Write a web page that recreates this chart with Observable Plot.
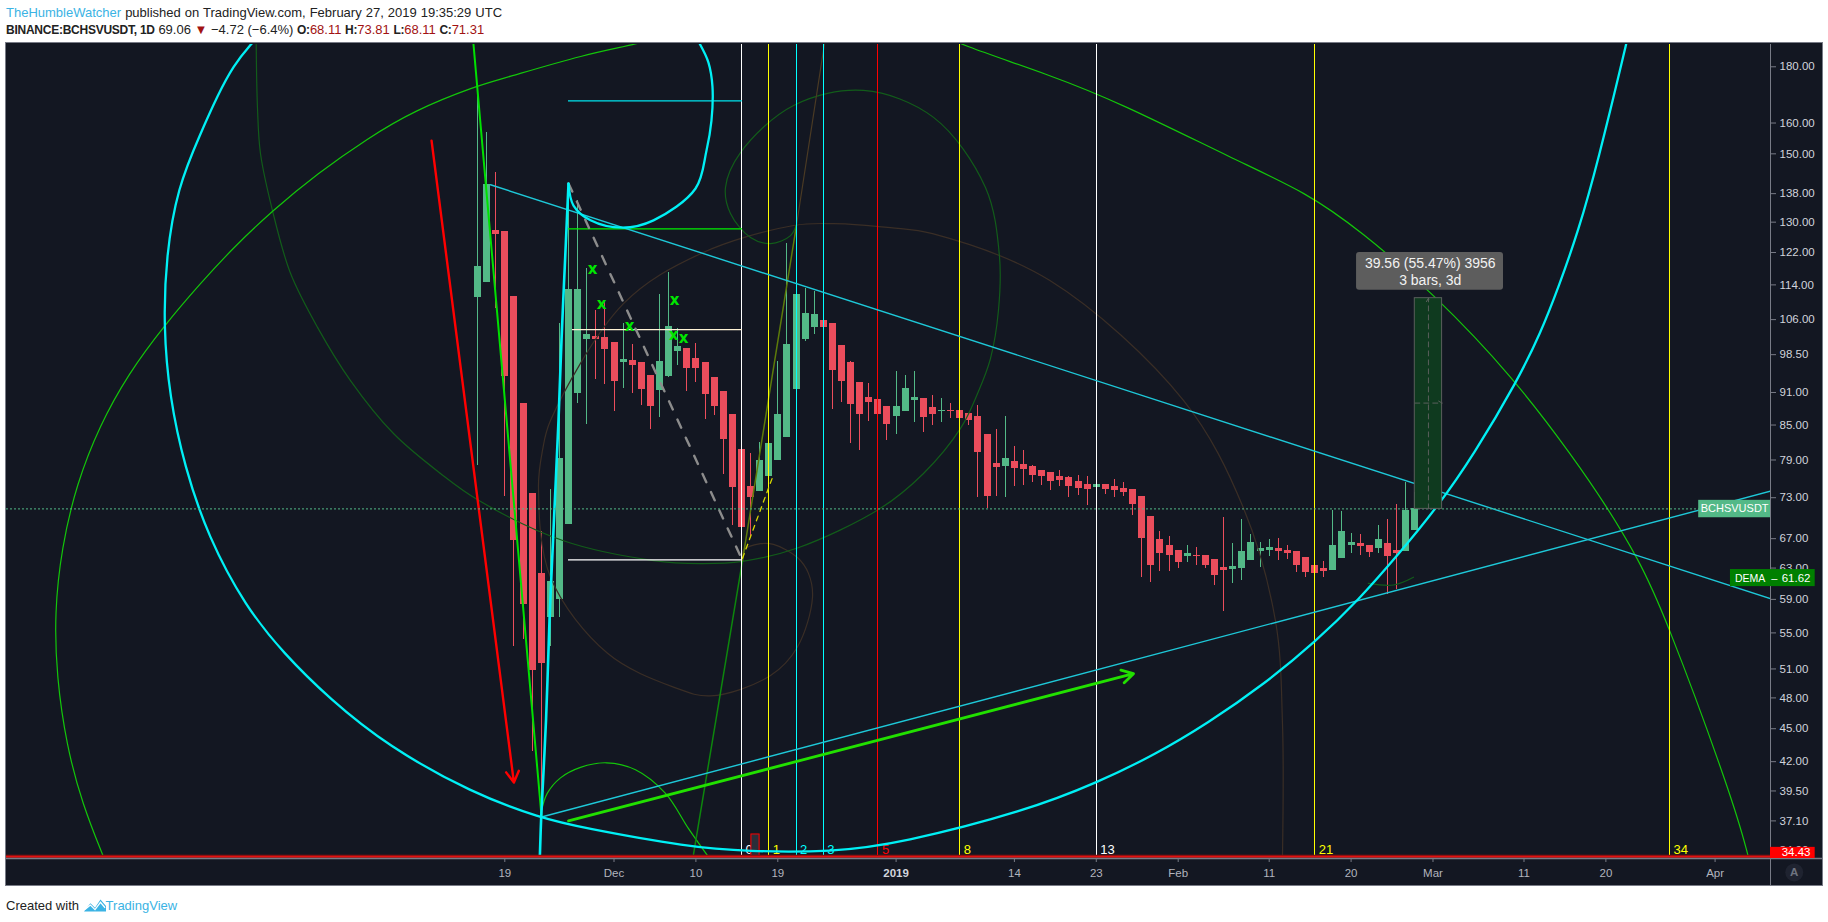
<!DOCTYPE html>
<html><head><meta charset="utf-8">
<script src="https://cdn.jsdelivr.net/npm/d3@7"></script>
<script src="https://cdn.jsdelivr.net/npm/@observablehq/plot@0.6"></script>
<style>
html,body{margin:0;padding:0;background:#fff;width:1828px;height:922px;overflow:hidden;font-family:"Liberation Sans",Arial,sans-serif}
#h1,#h2,#foot{position:absolute;left:6px;white-space:pre;font-size:13px;color:#222}
#h1{top:5px;word-spacing:.4px}#h2{top:21.5px}#foot{top:897px;display:flex;align-items:center}
#chart{position:absolute;left:6px;top:43px}
#chart svg{display:block;outline:1px solid #787b86;background:#131722}
.b{font-weight:700}.t{font-size:12px;letter-spacing:-.25px}.r{color:#a11212}.l{color:#3bb3e4}
</style></head><body>
<div id="h1"><span class="l">TheHumbleWatcher</span> published on TradingView.com, February 27, 2019 19:35:29 UTC</div>
<div id="h2"><span class="b t">BINANCE:BCHSVUSDT, 1D</span> 69.06 <span class="r">▼</span> −4.72 (−6.4%) <span class="b t">O:</span><span class="r">68.11</span> <span class="b t">H:</span><span class="r">73.81</span> <span class="b t">L:</span><span class="r">68.11</span> <span class="b t">C:</span><span class="r">71.31</span></div>
<div id="chart"></div>
<div id="foot">Created with <svg width="22" height="16" viewBox="0 0 24 16" style="margin:0 0 0 1px"><path d="M0 15 L7 6 L12 11 L18 2 L24 9 L24 15 Z" fill="#3bb3e4"/><path d="M1 13 L7 8 L12 13 L18 5 L23 11" fill="none" stroke="#fff" stroke-width="1.4"/></svg><span class="l">TradingView</span></div>
<script>
// Candles: one per day from 16 Nov 2018 (day 0)
const opens=[111,114.6,127.7,127.4,111.2,89,73.7,62.3,56.8,59,69,90.8,101.7,102.3,102.1,101.1,96.9,97.3,96.9,94.3,91.4,94.1,99.2,99.8,97.7,96.9,93.9,91.2,86.9,80.8,74.7,73.9,76.3,78.9,82.8,91.6,101.7,104.3,105.8,105.2,100.4,96.9,92.9,90.1,89.7,88.4,86.5,87.4,89.5,89.9,88.2,87.4,87.6,87.6,87,86.5,83.3,78.4,78,78.8,78.3,78,77.3,77,76.3,76.2,75.5,75,74.5,75,74.7,74.4,74.2,73.2,70.2,66.9,66,65.4,64.6,64.7,64.7,64.1,63.1,62.8,63,64,65.2,65.4,65.6,65.4,65.2,64.4,63.4,63,62.7,64.3,66,66.3,66.1,65.6,66.3,65.4,65.2,68.11];
const highs=[173.1,156.8,144.3,127.4,111.2,89,73.7,68,74.3,105.2,141,136,118,108.1,110.3,101.1,105.2,100.7,96.9,94.3,111.8,117,104.1,99.8,100.9,96.9,93.9,91.2,86.9,80.8,80.1,82,85.3,97.1,124.3,129.7,113.2,112.5,111.8,105.2,100.4,97.1,92.9,92.7,89.7,88.4,95.1,94.3,95.1,89.9,90.4,89.9,89,87.6,87,88.6,83.3,84.2,86.5,81.3,80.6,78.1,77.3,77,77.3,76.3,76.5,76.3,76.2,75,75.8,75.4,74.2,73.2,70.2,68,67.3,65.4,66,65.8,64.7,64.1,70,66.3,69.7,67.6,66.5,66.9,67,66,65.2,64.4,63.4,63.9,71.1,70.9,67.7,67.6,66.1,68.9,69.7,72,75.4,73.81];
const lows=[78.1,114.6,108.5,73.2,53.4,54.2,42.9,37.6,53.4,56.8,69,89,85.1,93.5,92.5,87.4,91.8,90.8,88.6,84.2,86.3,93.9,96.3,91.2,92.9,86,86.8,76.7,68.9,64,67.1,73.9,76.3,78.9,82.8,91.2,101.3,102.7,99.6,87.8,89.1,81.8,80.6,85.6,85.3,82.3,83.3,87.4,85.5,83.7,84.9,85.5,86.2,84.9,84.9,73,71.4,73.2,73,74.7,74.9,75.4,74.9,74.1,74.7,73.1,73.4,71.8,74.2,73.5,73,73.2,70.3,61.8,61.1,62.6,62.6,63,63.8,63.4,63,60.8,57.5,61,61.4,64,63.1,64.5,64,64.1,62.4,61.8,62,61.8,62.7,64.3,64.9,64.7,64.4,64.9,59.6,60.2,65.2,68.11];
const closes=[118.5,140.6,126.6,94.1,66.7,58.4,50.8,51.6,61.3,79.2,112.9,112.9,102.7,101.7,99.6,93.1,97.5,96.3,91.6,88.4,97.1,104.5,100.2,95.7,95.7,90.6,88.4,82.5,74.6,68.6,73,78.9,81.7,86.9,100.7,111.8,107.4,107.2,104.3,95.3,93.1,88.7,86.9,89.1,86.9,85.1,88.4,91.8,90.1,86.3,86.9,87.6,87.4,86.2,85.8,80.3,73.2,77.8,79.2,77.6,77.5,76.5,76.3,75.5,75.7,74.7,74.4,74.2,75.1,74.2,74.1,73.8,72,67,63.4,64.9,64.7,63.8,64.9,64.6,63.4,62,62.7,63.2,65.2,66.4,65.6,65.8,65.2,65,63.3,62.4,62.3,62.6,66,68,66.5,65.9,65.1,66.9,64.6,65,71.1,71.31];

// Axes
const priceTicks=[180,160,150,138,130,122,114,106,98.5,91,85,79,73,67,63,59,55,51,48,45,42,39.5,37.1,34.9];
const dayTicks=[3,15,24,33,59,68,77,87,96,105,115,124,136];
const dayTickLabels=["19","Dec","10","19","14","23","Feb","11","20","Mar","11","20","Apr"];
const yearTickDay=[46];const yearTickLabel="2019";

// Fib time zones
const zoneDays=[29,32,35,38,44,53,68,92,131];
const zoneLabels=["0","1","2","3","5","8","13","21","34"];
const zoneColours=["#ffffff","#ffff00","#00ffff","#00ffff","#ff0000","#ffff00","#ffffff","#ffff00","#ffff00"];

// Drawings, as [day, price]
const fallTrend=[[1.43,140.6],[142.09,59.1]];
const riseTrend=[[7.03,37.4],[142.09,74]];
const redArrow=[-5.05,154.2,4.0,40.2];
const greenArrow=[10,37.1,72.09,50.5];
const steepGreen=[[-0.44,188.6],[7.03,37.5]];
const riseDarkGreen=[[23.74,34.6],[29.12,64]];
const riseOlive=[[29.12,64],[35.05,129.1]];
const riseBrown=[[35.05,129.1],[38.13,189]];
const grayDash=[[10,141],[29.12,64]];
const yellowDash=[[29.12,64.3],[32.5,76.5]];
const cyanSpike=[[6.85,34.4],[7.0,37.4],[7.53,45.8],[7.91,56.4],[8.35,68.2],[8.9,85.8],[9.23,101.5],[9.67,122.5],[10,140.9]];
const cyanSmallArc=[[10,140.9],[10.55,134.6],[12.42,130.5],[15.93,128.5],[19.34,130.5],[23.96,139.5],[25.16,151],[25.71,160.8],[25.82,172.7],[25.38,181.6],[24.4,189]];
const cyanBigArc=[[-23.5,194],[-24.95,188.6],[-26.81,180.5],[-28.57,169.5],[-30.44,156.5],[-32.97,139.8],[-34.23,121],[-34.51,104.5],[-33.85,90.2],[-32.2,77.9],[-29.62,67.3],[-25.49,58.1],[-21.32,52.7],[-16.26,47.9],[-9.89,43.4],[-0.55,39.3],[7.03,37.3],[11.32,36.6],[23.3,35.1],[29.56,34.8],[39.01,34.75],[46.48,35.4],[60.33,37.9],[68.13,40.2],[74.4,42.6],[80.22,45.5],[86.59,49.5],[92.09,54],[96.81,58.9],[101.32,65],[105.6,71.8],[109.45,79.8],[114.29,93.3],[116.81,103],[118.79,113.4],[120.99,127.7],[123.08,147],[126.26,189],[126.8,198]];
const greenLeftArc=[[-40.6,33.6],[-41.1,34.4],[-43.41,38.4],[-45.16,43.4],[-46.26,50.2],[-46.48,57.4],[-45.71,65.7],[-44.07,75.1],[-41.54,84.9],[-38.35,94.7],[-34.51,104.5],[-30.44,114.4],[-26.81,123.3],[-22.53,133.2],[-17.58,144],[-12.09,154.9],[-7.03,164.2],[0,173.1],[2.53,175.3],[11.87,184.9],[18.02,189],[20,192]];
const greenRightArc=[[51,193],[52.64,189],[62.86,177],[70.55,167],[83.41,147.9],[91.1,138.3],[97.03,127.7],[105.05,112],[113.85,93.9],[120.44,79.4],[124.18,71.5],[127.47,64.4],[130.33,57.6],[138.02,38.7],[139.67,34.4],[140,33.5]];
const greenDome=[[7.0,37.8],[7.66,39.3],[9.12,40.6],[11.32,41.5],[14.18,41.9],[17.36,41.3],[20.66,39.3],[23.19,36.5],[25.38,34.4]];
const darkGreenSpiral=[[-24.32,189],[-24.18,165.3],[-23.85,150.1],[-22.53,133.2],[-20.55,116.8],[-17.58,104.3],[-13.96,93.3],[-9.23,83.5],[-4.07,76.8],[0.11,72.6],[9.45,66.7],[19.34,64],[24.51,63.6],[29.12,63.9],[35.16,65.7],[44.29,71.4],[49.01,76.8],[53.08,84.4],[54.95,90.8],[56.37,97.7],[57.25,108.1],[57.36,121],[55.82,139.8],[50.11,161.9],[42.42,171.3],[34.73,166],[28.9,150.4],[27.25,139.8],[27.8,132.4],[30,125.9],[32.2,124.3],[34.4,126.4],[35.05,129.4]];
const darkGreenTiny=[[97.9,61],[100.66,60.8],[102.86,61.8]];
const brownSpiral=[[88.46,34.4],[88.46,45.5],[87.69,56.4],[84.18,71.4],[77.58,89.5],[62.86,115.1],[50,126.9],[45.38,128.5],[39.12,129.6],[34.73,129.1],[24.51,121.7],[16.04,109.6],[8.02,85.8],[7.14,80.6],[6.7,74.6],[8.02,61.8],[14.29,52.7],[21.54,49.1],[25.6,48.2],[32.2,50.3],[35.16,53.4],[36.81,59.2],[36.37,62.3],[35.16,64.4],[32.53,66.2],[31.1,66.3],[29.23,65.4],[29.12,64]];
const markers=[[12.64,117.7],[13.63,109.4],[16.7,104.5],[21.65,110.5],[21.54,102.7],[22.64,101.9]];
const hCyan=[10,29.12,167.6], hGreen=[10,29.12,128.2], hCream=[10.44,29.12,103.8], hWhite=[10,29.12,64.1];
const lastPrice=71.31, baseline=34.43, demaValue=61.62;
const rangeDays=[103,106], rangePrices=[71.31,110.87], rangeMid=[104.5,89];

const t0=Date.UTC(2018,10,16), toDate=d=>new Date(t0+d*864e5);
const dayL=-51.76, dayR=142.09, priceLow=34.29, priceHigh=188.6;
const green="#53b987", red="#eb4d5c", grid="#787b86";
const candles=d3.range(opens.length).map(i=>({date:toDate(i),o:opens[i],h:highs[i],l:lows[i],c:closes[i],col:closes[i]>=opens[i]?green:red}));
const tickMap=new Map(dayTicks.map((d,i)=>[+toDate(d),dayTickLabels[i]]));

const px=p=>toDate(p[0]), py=p=>p[1];
const ln=(pts,stroke,w,extra={})=>Plot.line(pts,{x:px,y:py,stroke,strokeWidth:w,clip:true,...extra});
const arc=(pts,stroke,w)=>ln(pts,stroke,w,{curve:"catmull-rom"});
const smooth=(pts,stroke,w)=>ln(pts,stroke,w,{curve:"basis"});
const hline=(h,stroke,w=1.2)=>Plot.ruleY([h[2]],{x1:toDate(h[0]),x2:toDate(h[1]),stroke,strokeWidth:w});
const arrow=(a,stroke,w,len,extra={})=>Plot.arrow([a],{x1:d=>toDate(d[0]),y1:d=>d[1],x2:d=>toDate(d[2]),y2:d=>d[3],stroke,strokeWidth:w,headLength:len,bend:0,...extra});
const chip=(d1,d2,p1,p2,fill)=>Plot.rect([0],{x1:toDate(d1),x2:toDate(d2),y1:p1,y2:p2,fill});
const label=(d,p,text,fill="#fff",size=11,extra={})=>Plot.text([text],{x:toDate(d),y:p,text:t=>t,fill,fontSize:size,...extra});

const chart=Plot.plot({
  width:1816,height:842,marginTop:1,marginBottom:27,marginLeft:0,marginRight:52,
  style:{background:"#131722",fontFamily:"'Liberation Sans',Arial,sans-serif",fontSize:"11px"},
  x:{type:"utc",domain:[toDate(dayL),toDate(dayR)]},
  y:{type:"log",domain:[priceLow,priceHigh]},
  marks:[
    // candles
    Plot.ruleX(candles,{x:"date",y1:"l",y2:"h",stroke:"col",strokeWidth:1,shapeRendering:"crispEdges"}),
    Plot.ruleX(candles,{x:"date",y1:"o",y2:"c",stroke:"col",strokeWidth:7,shapeRendering:"crispEdges"}),
    // spirals and arcs
    arc(brownSpiral,"#3a2e26",1.2),
    arc(darkGreenSpiral,"#125c1a",1.2),
    arc(darkGreenTiny,"#125c1a",1.2),
    smooth(greenLeftArc,"#13c60a",1.2),
    smooth(greenRightArc,"#13c60a",1.2),
    arc(greenDome,"#13c60a",1.2),
    ln(riseDarkGreen,"#0d860d",1.5),
    ln(riseOlive,"#5c7a0a",1.5),
    ln(riseBrown,"#4a3a24",1.2),
    ln(steepGreen,"#00e000",2),
    // time zones
    Plot.ruleX(zoneDays,{x:d=>toDate(d),y1:priceLow,y2:priceHigh,stroke:(d,i)=>zoneColours[i],strokeWidth:1,shapeRendering:"crispEdges"}),
    Plot.text(zoneDays,{x:d=>toDate(d),y:34.9,text:(d,i)=>zoneLabels[i],fill:(d,i)=>zoneColours[i],fontSize:13,dx:4,textAnchor:"start"}),
    Plot.rect([0],{x1:toDate(30.1),x2:toDate(31),y1:priceLow,y2:36.06,fill:"#2a2e39",stroke:"#ff0000",strokeWidth:1}),
    // horizontal levels
    hline(hCyan,"#00e5ee"),hline(hGreen,"#00f000"),hline(hCream,"#fff3d6"),hline(hWhite,"#ffffff"),
    // trend lines
    ln(fallTrend,"#1ec8d8",1.4),ln(riseTrend,"#1ec8d8",1.4),
    ln(grayDash,"#8c8c8c",2.4,{strokeDasharray:"9,11"}),
    ln(yellowDash,"#d8d800",1.3,{strokeDasharray:"5,5"}),
    // thick cyan
    arc(cyanSpike,"#00f0f5",2.6),arc(cyanSmallArc,"#00f0f5",2.3),smooth(cyanBigArc,"#00f0f5",2.3),
    // arrows
    arrow(redArrow,"#ff0000",2.4,8),arrow(greenArrow,"#22e000",2.8,7),
    // markers
    Plot.text(markers,{x:px,y:py,text:()=>"x",fill:"#00e600",fontSize:15,fontWeight:700,fontFamily:"'DejaVu Sans'"}),
    // last price & baseline
    Plot.ruleY([lastPrice],{stroke:green,strokeWidth:1,strokeDasharray:"2,2"}),
    Plot.ruleY([baseline],{stroke:"#8f1111",strokeWidth:3.6}),
    Plot.ruleY([baseline],{stroke:"#e41010",strokeWidth:1.2}),
    // range tool
    Plot.rect([0],{x1:toDate(rangeDays[0]),x2:toDate(rangeDays[1]),y1:rangePrices[0],y2:rangePrices[1],fill:"#0f3a1f",stroke:"#5a5f5c",strokeWidth:1}),
    arrow([rangeMid[0],rangePrices[0],rangeMid[0],rangePrices[1]],"#5a5f5c",1,6,{strokeDasharray:"5,4"}),
    arrow([rangeDays[0],rangeMid[1],rangeDays[1],rangeMid[1]],"#5a5f5c",1,6,{strokeDasharray:"5,4"}),
    Plot.rect([0],{x1:toDate(96.6),x2:toDate(112.75),y1:112.7,y2:122,fill:"#5d5d5d",rx:3}),
    label(104.7,119.3,"39.56 (55.47%) 3956","#f2f2f2",14),
    label(104.7,115.1,"3 bars, 3d","#f2f2f2",14),
    // frame lines and axes
    Plot.ruleX([0],{x:toDate(dayR),y1:32.4,y2:priceHigh,stroke:grid}),
    Plot.ruleY([priceLow],{x1:toDate(dayL),x2:toDate(147.8),stroke:grid,strokeWidth:1.5}),
    Plot.axisY({anchor:"right",ticks:priceTicks,tickFormat:d=>d.toFixed(2),tickSize:5,tickPadding:4,label:null,stroke:grid,color:"#d1d4dc",fill:"#d1d4dc",fontSize:11.5}),
    Plot.axisX({anchor:"bottom",ticks:dayTicks.map(toDate),tickFormat:d=>tickMap.get(+d),tickSize:4,tickPadding:6,label:null,stroke:grid,fill:"#b2b5be",fontSize:11.5}),
    Plot.axisX({anchor:"bottom",ticks:yearTickDay.map(toDate),tickFormat:()=>yearTickLabel,tickSize:4,tickPadding:6,label:null,stroke:grid,fill:"#d1d4dc",fontWeight:700,fontSize:11.5}),
    // value chips
    chip(134.2,dayR,70,72.6,green),
    label(138.15,lastPrice,"BCHSVUSDT","#fff",11),
    chip(137.69,147,60.6,62.8,"#008000"),
    label(139.85,demaValue,"DEMA","#fff",10.5),
    label(142.5,demaValue,"–","#fff",11),
    label(144.9,demaValue,"61.62","#fff",11.5),
    chip(dayR,147,priceLow,35.1,"#ff0000"),
    label(144.9,34.72,"34.43","#fff",11.5),
    // auto-scale button
    Plot.dot([0],{x:toDate(144.7),y:33.3,r:9,fill:"#1f2330"}),
    label(144.7,33.3,"A","#6f7480",11.5,{fontWeight:700})
  ]
});
document.getElementById("chart").append(chart);
</script>
</body></html>
